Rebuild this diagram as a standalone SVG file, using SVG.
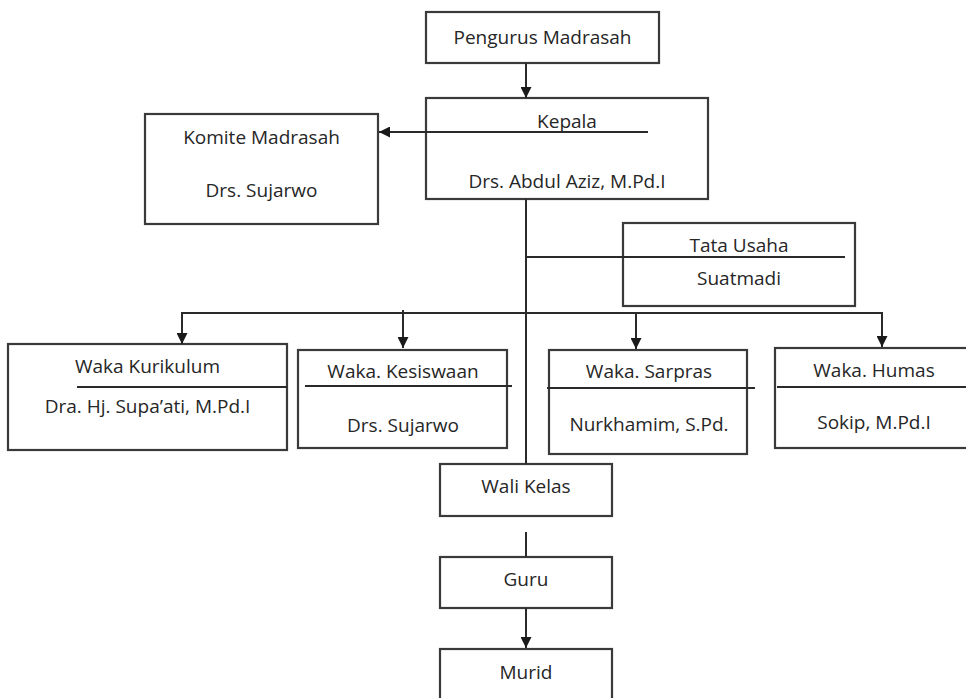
<svg xmlns="http://www.w3.org/2000/svg" width="966" height="698" viewBox="0 0 966 698">
<defs>
<style>
.box{fill:#fff;stroke:#3a3a3a;stroke-width:2.2}
.ln{fill:none;stroke:#2a2a2a;stroke-width:2}
.t{font-family:"Open Sans","DejaVu Sans",sans-serif;font-size:19px;fill:#262626;text-anchor:middle}
</style>
<marker id="ah" viewBox="0 0 10 10" refX="10" refY="5" markerWidth="11" markerHeight="11" markerUnits="userSpaceOnUse" orient="auto">
<path d="M0,0 L10,5 L0,10 z" fill="#1a1a1a"/>
</marker>
</defs>
<rect width="966" height="698" fill="#fff"/>
<g id="pengurus"><rect class="box" x="426" y="12" width="233" height="51"/><text class="t" x="542.5" y="44">Pengurus Madrasah</text></g>
<g id="kepala"><rect class="box" x="426" y="98" width="282" height="101"/><text class="t" x="567" y="128">Kepala</text><line class="ln" x1="648" y1="132" x2="426" y2="132"/><text class="t" x="567" y="188">Drs. Abdul Aziz, M.Pd.I</text></g>
<g id="komite"><rect class="box" x="145" y="114" width="233" height="110"/><text class="t" x="261.5" y="144">Komite Madrasah</text><text class="t" x="261.5" y="197">Drs. Sujarwo</text></g>
<g id="tatausaha"><rect class="box" x="623" y="223" width="232" height="83"/><text class="t" x="739" y="252">Tata Usaha</text><text class="t" x="739" y="285">Suatmadi</text></g>
<g id="kurikulum"><rect class="box" x="8" y="344" width="279" height="106"/><text class="t" x="147.5" y="373">Waka Kurikulum</text><line class="ln" x1="77" y1="387" x2="287" y2="387"/><text class="t" x="147.5" y="413">Dra. Hj. Supa’ati, M.Pd.I</text></g>
<g id="kesiswaan"><rect class="box" x="298" y="350" width="209" height="98"/><text class="t" x="403" y="378">Waka. Kesiswaan</text><line class="ln" x1="305" y1="386" x2="512" y2="386"/><text class="t" x="403" y="432">Drs. Sujarwo</text></g>
<g id="sarpras"><rect class="box" x="549" y="350" width="198" height="104"/><text class="t" x="649" y="378">Waka. Sarpras</text><line class="ln" x1="547" y1="388" x2="755" y2="388"/><text class="t" x="649" y="431">Nurkhamim, S.Pd.</text></g>
<g id="humas"><rect class="box" x="775" y="348" width="200" height="100"/><text class="t" x="874" y="377">Waka. Humas</text><line class="ln" x1="777" y1="387" x2="966" y2="387"/><text class="t" x="874" y="429">Sokip, M.Pd.I</text></g>
<g id="walikelas"><rect class="box" x="440" y="464" width="172" height="52"/><text class="t" x="526" y="493">Wali Kelas</text></g>
<g id="guru"><rect class="box" x="440" y="557" width="172" height="51"/><text class="t" x="526" y="586">Guru</text></g>
<g id="murid"><rect class="box" x="440" y="649" width="172" height="60"/><text class="t" x="526" y="679">Murid</text></g>
<g id="connectors">
<line class="ln" x1="526" y1="63" x2="526" y2="98" marker-end="url(#ah)"/>
<line class="ln" x1="426" y1="132" x2="379" y2="132" marker-end="url(#ah)"/>
<line class="ln" x1="526" y1="199" x2="526" y2="464"/>
<line class="ln" x1="526" y1="257" x2="845" y2="257"/>
<line class="ln" x1="182" y1="313" x2="882" y2="313"/>
<line class="ln" x1="182" y1="312" x2="182" y2="344" marker-end="url(#ah)"/>
<line class="ln" x1="403" y1="310" x2="403" y2="348" marker-end="url(#ah)"/>
<line class="ln" x1="636" y1="312" x2="636" y2="349" marker-end="url(#ah)"/>
<line class="ln" x1="882" y1="312" x2="882" y2="347" marker-end="url(#ah)"/>
<line class="ln" x1="526" y1="532" x2="526" y2="557"/>
<line class="ln" x1="526" y1="608" x2="526" y2="648" marker-end="url(#ah)"/>
</g>
</svg>
